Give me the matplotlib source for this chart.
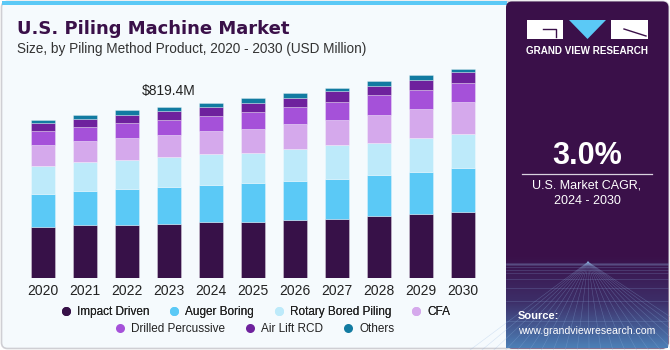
import numpy as np
import matplotlib
matplotlib.use("Agg")
from matplotlib import pyplot as plt
from matplotlib.patches import Rectangle, Polygon, FancyBboxPatch
from matplotlib.lines import Line2D

plt.rcParams['font.family'] = ['Liberation Sans', 'DejaVu Sans']

years = ['2020', '2021', '2022', '2023', '2024', '2025', '2026', '2027', '2028', '2029', '2030']
segments = ['Impact Driven', 'Auger Boring', 'Rotary Bored Piling', 'CFA',
            'Drilled Percussive', 'Air Lift RCD', 'Others']

# USD Million
impact_driven = [242, 253, 253, 260, 266, 269, 277, 282, 295, 305, 316]
auger_boring = [158, 164, 171, 176, 178, 183, 185, 191, 199, 201, 209]
rotary_bored = [134, 137, 142, 143, 147, 148, 156, 161, 153, 166, 166]
cfa = [100, 102, 104, 107, 110, 115, 118, 123, 135, 135, 150]
drilled_percussive = [67, 67, 70, 71, 72, 80, 80, 85, 91, 91, 94]
air_lift_rcd = [40, 38, 42, 40, 44, 44, 44, 51, 43, 49, 48]
others = [16, 21, 21, 22, 19, 21, 24, 16, 24, 24, 18]

colors = ['#371148', '#5BC9F6', '#BDEAFA', '#D5A9EC', '#A551D9', '#6E219D', '#127BA1']
label_year = 3
label_text = '$819.4M'

series = [impact_driven, auger_boring, rotary_bored, cfa,
          drilled_percussive, air_lift_rcd, others]

W, H = 670, 350
fig = plt.figure(figsize=(W / 100, H / 100), dpi=100)
fig.patch.set_facecolor('white')

# ---------- background / decoration layer (pixel coordinates) ----------
bg = fig.add_axes([0, 0, 1, 1], zorder=0)
bg.set_xlim(0, W)
bg.set_ylim(H, 0)
bg.axis('off')
bg.add_patch(FancyBboxPatch((1.5, 1.5), W - 3, H - 3, boxstyle='round,pad=0,rounding_size=6',
                            fc='#F5FAFD', ec='#CFCFD4', lw=1.2))
bg.add_patch(Rectangle((2, 1), 505, 4, fc='#5BC9F6', ec='none'))

# right panel
bg.add_patch(FancyBboxPatch((506, 1.5), W - 507.5, H - 3, boxstyle='round,pad=0,rounding_size=6',
                            fc='#3A1049', ec='none'))
grad = np.linspace(0, 1, 100)[:, None]
cmap = matplotlib.colors.LinearSegmentedColormap.from_list('g', ['#3A1049', '#3D2E68', '#4C7FB6'])
bg.imshow(grad, extent=(506, W - 2, 348, 255), cmap=cmap, aspect='auto', zorder=1)
# faint grid texture
for xx in np.linspace(470, 720, 22):
    bg.plot([588, xx], [262, 350], color='#8FB3E0', lw=0.4, alpha=0.35, zorder=2)
for yy in np.geomspace(1, 88, 12):
    bg.plot([506, W - 2], [262 + yy, 262 + yy], color='#8FB3E0', lw=0.4, alpha=0.35, zorder=2)

# logo
bg.add_patch(Rectangle((527, 20), 36, 19, fc='white', ec='none', zorder=3))
bg.add_patch(Polygon([[569, 20], [606, 20], [587.5, 39]], fc='#5BC9F6', ec='none', zorder=3))
bg.add_patch(Rectangle((611, 20), 37, 19, fc='white', ec='none', zorder=3))
bg.plot([543, 556, 556], [29, 29, 37], color='#3A1049', lw=1, zorder=4)
bg.plot([624, 646], [29, 36], color='#3A1049', lw=1, zorder=4)
bg.text(587.5, 51, 'GRAND VIEW RESEARCH', color='white', fontsize=7.1, fontweight='bold',
        ha='center', va='center', zorder=4)

bg.text(587, 156, '3.0%', color='white', fontsize=22, fontweight='bold',
        ha='center', va='center', zorder=4)
bg.plot([522, 652], [173.5, 173.5], color='#D9D2DF', lw=0.9, zorder=4)
bg.text(587, 186, 'U.S. Market CAGR,', color='white', fontsize=9, ha='center', va='center', zorder=4)
bg.text(587, 201, '2024 - 2030', color='white', fontsize=9, ha='center', va='center', zorder=4)
bg.text(518, 316, 'Source:', color='white', fontsize=8, fontweight='bold',
        ha='left', va='center', zorder=4)
bg.text(518, 330.5, 'www.grandviewresearch.com', color='white', fontsize=7.6,
        ha='left', va='center', zorder=4)

# titles
bg.text(17, 29, 'U.S. Piling Machine Market', color='#3A1049', fontsize=13,
        fontweight='bold', ha='left', va='center', family=['DejaVu Sans'])
bg.text(17, 49, 'Size, by Piling Method Product, 2020 - 2030 (USD Million)', color='#333333',
        fontsize=9.8, ha='left', va='center')

# ---------- chart ----------
ax = fig.add_axes([22 / W, (H - 278) / H, 462 / W, 218 / H], zorder=2)
ax.set_facecolor('none')
x = np.arange(len(years))
bottom = np.zeros(len(years))
for name, vals, c in zip(segments, series, colors):
    ax.bar(x, vals, width=0.57, bottom=bottom, color=c, label=name,
           edgecolor=(1, 1, 1, 0.35), linewidth=0.6)
    bottom += np.array(vals)

ax.set_xlim(-0.5, len(years) - 0.5)
ax.set_ylim(0, 218 * 4.783)
ax.set_xticks(x)
ax.set_xticklabels(years, fontsize=10, color='#222222')
ax.tick_params(axis='x', length=0, pad=4)
ax.set_yticks([])
for s in ax.spines.values():
    s.set_visible(False)

ax.text(x[label_year], bottom[label_year] + 74, label_text, ha='center', va='center',
        fontsize=10, color='#222222')

# ---------- legend: two centered rows ----------
def handle(c):
    return Line2D([], [], marker='o', ls='none', markersize=6.5, markerfacecolor=c,
                  markeredgecolor='none')

h = [handle(c) for c in colors]
kw = dict(loc='center', frameon=False, fontsize=8.5, handletextpad=0.45,
          columnspacing=1.6, handlelength=1.0, borderpad=0)
leg1 = fig.legend(h[:4], segments[:4], bbox_to_anchor=(255 / W, 1 - 312 / H), ncol=4, **kw)
fig.add_artist(leg1)
leg2 = fig.legend(h[4:], segments[4:], bbox_to_anchor=(254 / W, 1 - 329 / H), ncol=3, **kw)
for lg in (leg1, leg2):
    for t in lg.get_texts():
        t.set_color('#222222')

fig.savefig('out.png', dpi=100, facecolor=fig.get_facecolor())
